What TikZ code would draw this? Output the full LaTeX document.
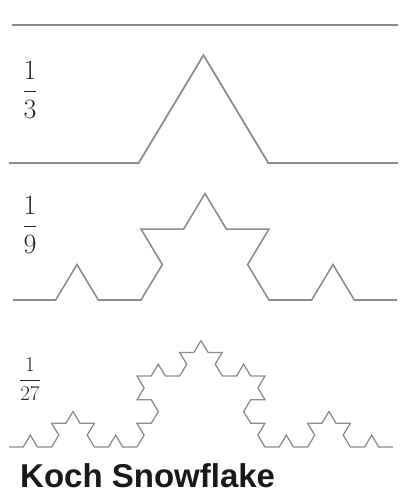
\RequirePackage{fix-cm}
\documentclass[tikz,border=0pt]{standalone}
\usepackage{amsmath}
\usepackage{fontspec}
\newfontfamily\titlefont{Liberation Sans}
\usetikzlibrary{decorations.fractals}

\begin{document}
\begin{tikzpicture}[x=1pt,y=1pt,every node/.style={text=black!85,inner sep=0pt},
  curve/.style={draw=gray!90,line width=1.8pt,line join=miter},
  koch/.style={curve,decoration=Koch snowflake},
  squash/.style={transform canvas={yshift=0.04*#1pt,yscale=0.96}}]
\useasboundingbox (0,0) rectangle (405,503);
% end points of the four stages
\coordinate (a0) at (12,478);
\coordinate (b0) at (398,478);
\coordinate (a1) at (9,340);
\coordinate (b1) at (398,340);
\coordinate (a2) at (13,203);
\coordinate (b2) at (397,203);
\coordinate (a3) at (9,56);
\coordinate (b3) at (393,56);
\draw[curve] (a0) -- (b0);
\draw[koch,squash=340] decorate{(a1) -- (b1)};
\draw[koch,squash=203,line width=1.6pt] decorate{decorate{(a2) -- (b2)}};
\draw[koch,squash=56,line width=1.3pt] decorate{decorate{decorate{(a3) -- (b3)}}};
% scale labels
\node (f3) at (30,413) {\fontsize{28}{30}\selectfont$\dfrac{1}{3}$};
\node (f9) at (30,278) {\fontsize{28}{30}\selectfont$\dfrac{1}{9}$};
\node (f27) at (30,124) {\fontsize{21}{24}\selectfont$\dfrac{1}{27}$};
\node[anchor=base west,text=black!90] (title) at (20,16)
  {\titlefont\bfseries\fontsize{33}{36}\selectfont Koch Snowflake};
\end{tikzpicture}
\end{document}
